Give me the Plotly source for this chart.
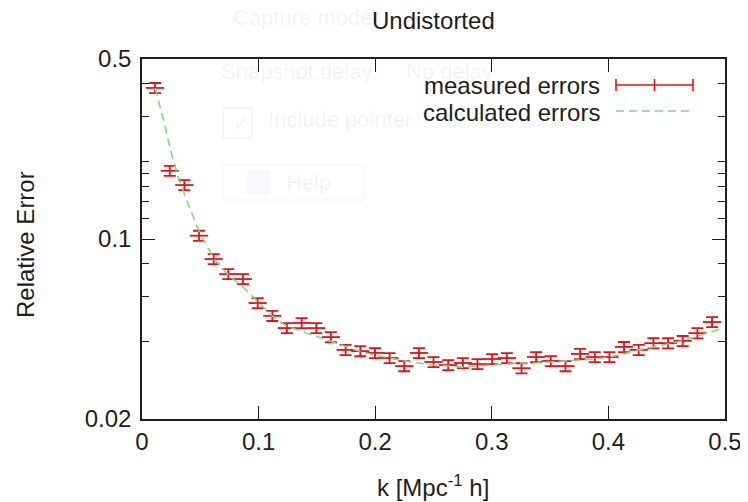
import plotly.graph_objects as go

# ---- data ----
k_measured = [0.0112, 0.0238, 0.0363, 0.0489, 0.0615, 0.0740, 0.0866, 0.0992, 0.1118, 0.1243,
              0.1369, 0.1495, 0.1620, 0.1746, 0.1872, 0.1998, 0.2123, 0.2249, 0.2375, 0.2500,
              0.2626, 0.2752, 0.2877, 0.3003, 0.3129, 0.3255, 0.3380, 0.3506, 0.3632, 0.3757,
              0.3883, 0.4009, 0.4134, 0.4260, 0.4386, 0.4512, 0.4637, 0.4763, 0.4889]
err_measured = [0.386, 0.184, 0.162, 0.103, 0.0836, 0.0731, 0.0699, 0.0564, 0.0503, 0.0451,
                0.0472, 0.0451, 0.0416, 0.0371, 0.0367, 0.0361, 0.0345, 0.0321, 0.0361, 0.0333,
                0.0324, 0.0330, 0.0327, 0.0342, 0.0345, 0.0315, 0.0348, 0.0336, 0.0321, 0.0358,
                0.0348, 0.0348, 0.0381, 0.0371, 0.0394, 0.0394, 0.0402, 0.0431, 0.0476]
k_calc = [0.0112, 0.0180, 0.0249, 0.0310, 0.0377, 0.0489, 0.0615, 0.0740, 0.0866, 0.0992,
          0.1118, 0.1243, 0.1369, 0.1495, 0.1620, 0.1746, 0.1872, 0.1998, 0.2123, 0.2249,
          0.2375, 0.2500, 0.2626, 0.2752, 0.2877, 0.3003, 0.3129, 0.3255, 0.3380, 0.3506,
          0.3632, 0.3757, 0.3883, 0.4009, 0.4134, 0.4260, 0.4386, 0.4512, 0.4637, 0.4763,
          0.4889, 0.4957]
err_calc = [0.386, 0.295, 0.218, 0.174, 0.144, 0.107, 0.084, 0.0725, 0.0651, 0.0569,
            0.0502, 0.0458, 0.0438, 0.0420, 0.0402, 0.0383, 0.0366, 0.0354, 0.0345, 0.0336,
            0.0330, 0.0324, 0.0321, 0.0318, 0.0321, 0.0324, 0.0327, 0.0330, 0.0330, 0.0333,
            0.0336, 0.0339, 0.0342, 0.0348, 0.0358, 0.0371, 0.0380, 0.0391, 0.0402, 0.0420,
            0.0439, 0.0447]
measured_err_percent = 4.5

x_ticks = [0, 0.1, 0.2, 0.3, 0.4, 0.5]
x_ticktext = ["0", "0.1", "0.2", "0.3", "0.4", "0.5"]
y_ticks = [0.02, 0.1, 0.5]
y_ticktext = ["0.02", "0.1", "0.5"]
y_minor = [0.04, 0.06, 0.08, 0.12, 0.14, 0.16, 0.18, 0.2, 0.3, 0.4]

title_text = "Undistorted"
xlabel = "k [Mpc<sup>-1</sup> h]"
ylabel = "Relative Error"
legend_names = ["measured errors", "calculated errors"]

# ---- style ----
OFF = 8  # page body margin of the browser
W, H = 748 - OFF, 502 - OFF
L, R, T, B = 142 - OFF, 725 - OFF, 59 - OFF, 419 - OFF
RED = "#e0141c"
GREEN = "#7cdc7c"
INK = "#1e1e1e"
FONT = "Liberation Sans, Arial, sans-serif"
FS = 24


def px(xp):
    return (xp - OFF - L) / (R - L)


def py(yp):
    return (B - (yp - OFF)) / (B - T)


fig = go.Figure()

fig.add_trace(go.Scatter(
    x=k_measured, y=err_measured, mode="markers", name=legend_names[0],
    marker=dict(symbol="line-ew", size=13, color=RED, line=dict(color=RED, width=1.8)),
    error_y=dict(type="percent", value=measured_err_percent, color=RED, thickness=1.8, width=6),
    showlegend=False,
))
fig.add_trace(go.Scatter(
    x=k_calc, y=err_calc, mode="lines", name=legend_names[1],
    line=dict(color=GREEN, width=1.6, dash="8px,5px"),
    showlegend=False,
))

axis_common = dict(
    showgrid=False, zeroline=False, showline=True, linecolor=INK, linewidth=1.5,
    mirror="allticks", ticks="inside", tickcolor=INK, tickwidth=1.3,
    tickfont=dict(family=FONT, size=FS, color=INK), automargin=False,
)

fig.update_xaxes(range=[0, 0.5], tickmode="array", tickvals=x_ticks, ticktext=x_ticktext,
                 ticklen=13, **axis_common)
fig.update_yaxes(type="log", range=[-1.69897, -0.30103], tickmode="array", tickvals=y_ticks,
                 ticktext=y_ticktext, ticklen=13, ticklabelstandoff=4,
                 minor=dict(tickmode="array", tickvals=y_minor, ticks="inside", ticklen=7,
                            tickcolor=INK, tickwidth=1.3),
                 **axis_common)

ann = []
shapes = []

# faint ghost overlay from the background window
GHOST = "rgba(0,0,0,0.06)"
ghost_items = [
    ("Capture mode:", 231, 18),
    ("Snapshot delay:", 219, 72),
    ("No delay", 404, 72),
    ("\u2713", 230, 123),
    ("Include pointer", 266, 120),
    ("Help", 284, 182),
]
for txt, xp, yp in ghost_items:
    ann.append(dict(text=txt, x=px(xp), y=py(yp), xref="paper", yref="paper",
                    xanchor="left", yanchor="middle", showarrow=False,
                    font=dict(family=FONT, size=22, color=GHOST)))
shapes.append(dict(type="rect", xref="paper", yref="paper", x0=px(223), x1=px(252),
                   y0=py(108), y1=py(138), line=dict(color="rgba(0,0,0,0.05)", width=1.5)))
shapes.append(dict(type="rect", xref="paper", yref="paper", x0=px(223), x1=px(364),
                   y0=py(165), y1=py(200), line=dict(color="rgba(0,0,0,0.035)", width=1.5)))
shapes.append(dict(type="rect", xref="paper", yref="paper", x0=px(247), x1=px(270),
                   y0=py(170), y1=py(195), fillcolor="rgba(60,110,200,0.05)", line=dict(width=0)))

# titles
ann.append(dict(text=title_text, x=px(433), y=py(21), xref="paper", yref="paper",
                xanchor="center", yanchor="middle", showarrow=False,
                font=dict(family=FONT, size=FS, color=INK)))
ann.append(dict(text=xlabel, x=px(433), y=py(486), xref="paper", yref="paper",
                xanchor="center", yanchor="middle", showarrow=False,
                font=dict(family=FONT, size=FS, color=INK)))
ann.append(dict(text=ylabel, x=px(26), y=py(245), xref="paper", yref="paper",
                xanchor="center", yanchor="middle", showarrow=False, textangle=-90,
                font=dict(family=FONT, size=FS, color=INK)))

# legend (gnuplot style: text then sample on the right)
leg_y = [86, 112]
for name, yp in zip(legend_names, leg_y):
    ann.append(dict(text=name, x=px(602), y=py(yp), xref="paper", yref="paper",
                    xanchor="right", yanchor="middle", showarrow=False,
                    font=dict(family=FONT, size=FS, color=INK)))
shapes.append(dict(type="line", xref="paper", yref="paper", x0=px(616), x1=px(693),
                   y0=py(85), y1=py(85), line=dict(color=RED, width=1.6)))
for xp in (616, 654.5, 693):
    shapes.append(dict(type="line", xref="paper", yref="paper", x0=px(xp), x1=px(xp),
                       y0=py(79), y1=py(91), line=dict(color=RED, width=1.6)))
shapes.append(dict(type="line", xref="paper", yref="paper", x0=px(616), x1=px(693),
                   y0=py(111), y1=py(111), line=dict(color=GREEN, width=1.6, dash="8px,5px")))

fig.update_layout(
    width=W, height=H,
    margin=dict(l=L, r=W - R, t=T, b=H - B, pad=0),
    paper_bgcolor="white", plot_bgcolor="white",
    annotations=ann, shapes=shapes,
    showlegend=False,
)

fig.write_html("out.html")
